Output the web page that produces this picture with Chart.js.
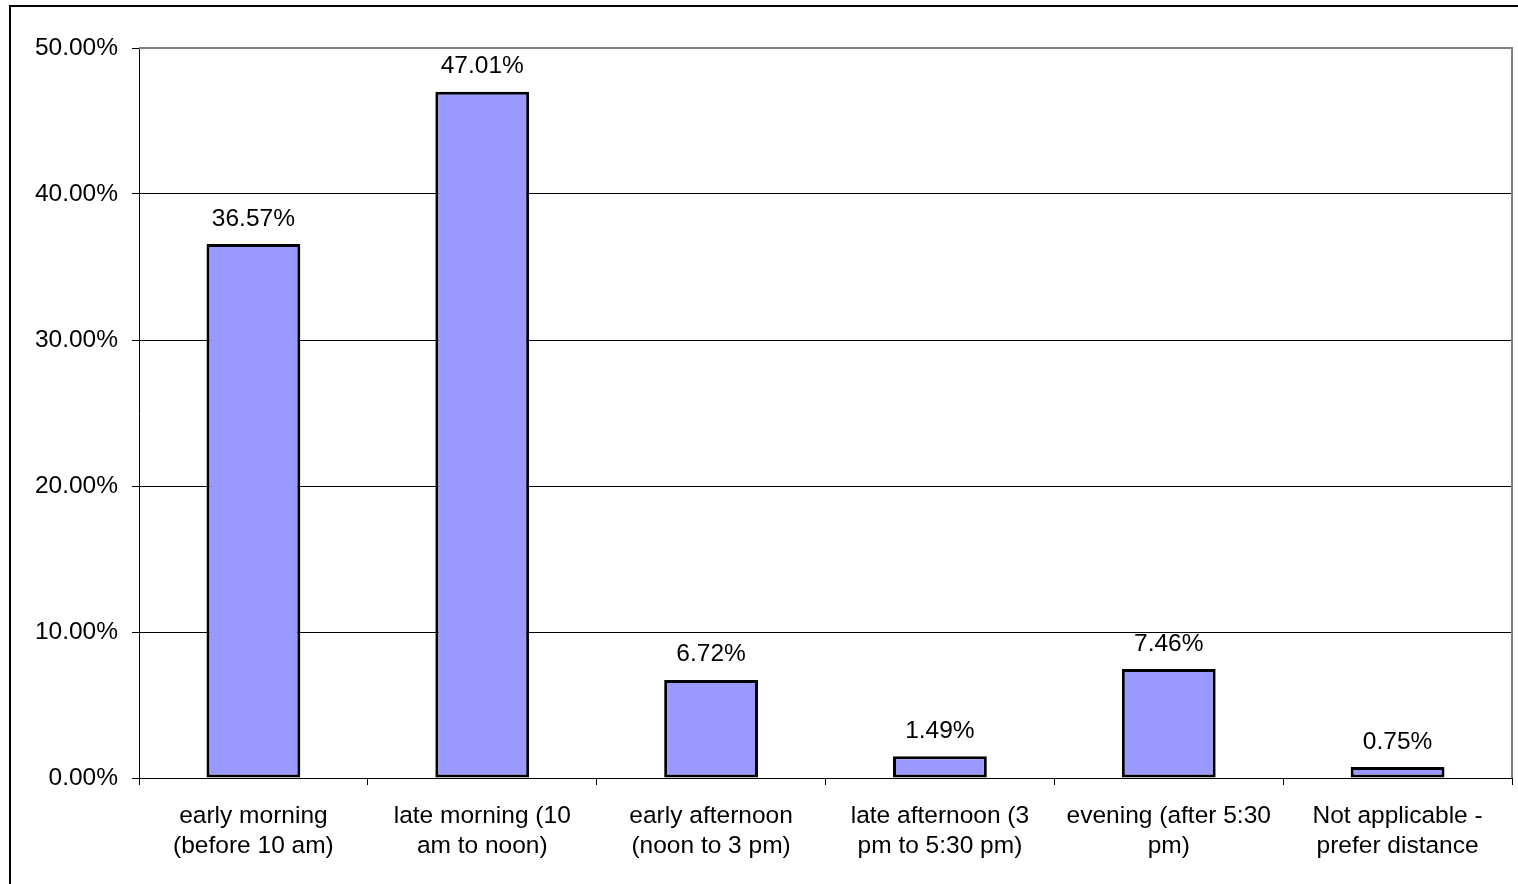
<!DOCTYPE html>
<html>
<head>
<meta charset="utf-8">
<script src="https://cdn.jsdelivr.net/npm/chart.js@4.4.1/dist/chart.umd.min.js"></script>
<style>
    html, body { margin: 0; padding: 0; background: #fff; overflow: hidden; }
    #frame { position: absolute; left: 9px; top: 5px; width: 1700px; height: 1000px; border: 2px solid #000; }
    #wrap { position: absolute; left: 0; top: 0; width: 1518px; height: 884px; }
</style>
</head>
<body>
<div id="frame"></div>
<div id="wrap"><canvas id="chart"></canvas></div>
<script>
// Data
const categories = [
    ['early morning', '(before 10 am)'],
    ['late morning (10', 'am to noon)'],
    ['early afternoon', '(noon to 3 pm)'],
    ['late afternoon (3', 'pm to 5:30 pm)'],
    ['evening (after 5:30', 'pm)'],
    ['Not applicable -', 'prefer distance']
];
const shares = [36.57, 47.01, 6.72, 1.49, 7.46, 0.75];
const yTicks = [0, 10, 20, 30, 40, 50];

const FONT = { family: 'Liberation Sans, Arial, sans-serif', size: 24.5 };

// value labels above bars
const barLabels = {
    id: 'barLabels',
    afterDatasetsDraw(chart) {
        const ctx = chart.ctx;
        const meta = chart.getDatasetMeta(0);
        ctx.save();
        ctx.font = FONT.size + 'px ' + FONT.family;
        ctx.fillStyle = '#000';
        ctx.textAlign = 'center';
        ctx.textBaseline = 'bottom';
        meta.data.forEach((bar, i) => {
            ctx.fillText(shares[i].toFixed(2) + '%', bar.x, bar.y - 13);
        });
        ctx.restore();
    }
};

// gray plot border on top and right
const plotBorder = {
    id: 'plotBorder',
    beforeDatasetsDraw(chart) {
        const { ctx, chartArea: a } = chart;
        ctx.save();
        ctx.strokeStyle = '#808080';
        ctx.lineWidth = 2;
        ctx.beginPath();
        ctx.moveTo(a.left, a.top);
        ctx.lineTo(a.right, a.top);
        ctx.lineTo(a.right, a.bottom);
        ctx.stroke();
        ctx.restore();
    }
};

new Chart(document.getElementById('chart'), {
    type: 'bar',
    data: {
        labels: categories,
        datasets: [{
            data: shares,
            backgroundColor: '#9999ff',
            borderColor: '#000',
            borderWidth: 3,
            borderSkipped: false,
            barPercentage: 0.41,
            categoryPercentage: 1.0
        }]
    },
    options: {
        responsive: true,
        maintainAspectRatio: false,
        animation: false,
        layout: { padding: { top: 48, right: 6, left: 0, bottom: 0 } },
        plugins: {
            legend: { display: false },
            tooltip: { enabled: false }
        },
        scales: {
            y: {
                min: 0,
                max: 50,
                afterFit: s => { s.width = 139; },
                afterBuildTicks: s => { s.ticks = yTicks.map(v => ({ value: v })); },
                grid: {
                    color: ctx => (ctx.tick && ctx.tick.value === 50) ? 'rgba(0,0,0,0)' : '#000',
                    tickColor: '#000',
                    tickLength: 7,
                    lineWidth: 1
                },
                border: { color: '#000', width: 1 },
                ticks: {
                    color: '#000',
                    font: FONT,
                    padding: 14,
                    callback: v => v.toFixed(2) + '%'
                }
            },
            x: {
                afterFit: s => { s.height = 106; },
                grid: {
                    offset: true,
                    drawOnChartArea: false,
                    tickColor: '#000',
                    tickLength: 7
                },
                border: { color: '#000', width: 1 },
                ticks: {
                    color: '#000',
                    font: { ...FONT, lineHeight: 1.23 },
                    padding: 16,
                    maxRotation: 0,
                    autoSkip: false
                }
            }
        }
    },
    plugins: [plotBorder, barLabels]
});
</script>
</body>
</html>
